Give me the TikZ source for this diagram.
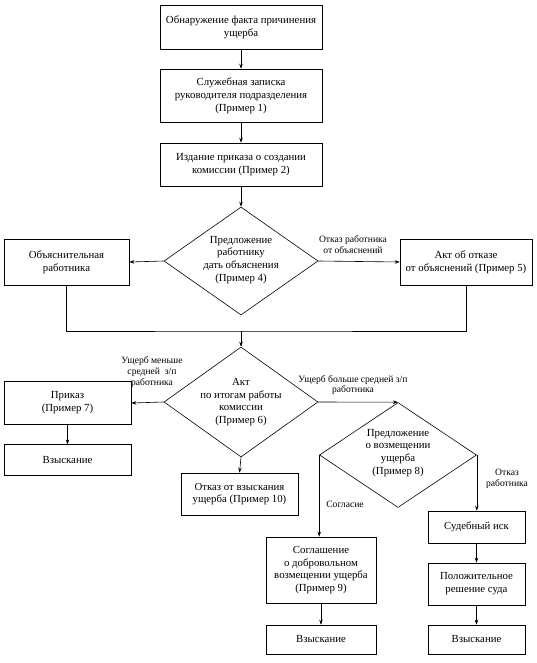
\documentclass[tikz,border=0pt]{standalone}
\usepackage{fontspec}
\setmainfont{Liberation Serif}
\usetikzlibrary{shapes.geometric,arrows.meta}
\begin{document}
\begin{tikzpicture}[x=1pt,y=-1pt,
  box/.style={draw,rectangle,align=center,inner sep=1pt,font=\fontsize{10.8}{12.8}\selectfont},
  dia/.style={draw,diamond,inner sep=0pt},
  dtxt/.style={align=center,inner sep=0pt,font=\fontsize{10.8}{12.8}\selectfont},
  lbl/.style={align=center,inner sep=0pt,font=\fontsize{9.6}{10.8}\selectfont},
  arr/.style={-{Stealth[length=5pt,width=3.5pt]}},
  every path/.style={line width=0.6pt}]
\useasboundingbox (0,0) rectangle (537,663);
\node[box,minimum width=162,minimum height=44] (b1) at (241,27) {Обнаружение факта причинения\\ущерба};
\node[box,minimum width=162,minimum height=53] (b2) at (241,95.5) {Служебная записка\\руководителя подразделения\\(Пример 1)};
\node[box,minimum width=162,minimum height=43] (b3) at (241,164.5) {Издание приказа о создании\\комиссии (Пример 2)};
\node[dia,minimum width=154,minimum height=108] (d1) at (241,261) {};
\node[dtxt] (d1t) at (241,260) {Предложение\\работнику\\дать объяснения\\(Пример 4)};
\node[box,minimum width=125,minimum height=46] (l1) at (66.5,262) {Объяснительная\\работника};
\node[box,minimum width=132,minimum height=46] (r1) at (466,262) {Акт об отказе\\от объяснений (Пример 5)};
\coordinate (m) at (241,331);
\node[dia,minimum width=154,minimum height=110] (d2) at (241,402) {};
\node[dtxt] (d2t) at (241,402) {Акт\\по итогам работы\\комиссии\\(Пример 6)};
\node[box,minimum width=127,minimum height=43.5] (p7) at (67.5,403) {Приказ\\(Пример 7)};
\node[box,minimum width=127,minimum height=30.5] (v1) at (67.5,460) {Взыскание};
\node[dia,minimum width=157,minimum height=105] (d3) at (398,455) {};
\node[dtxt] (d3t) at (398,453) {Предложение\\о возмещении\\ущерба\\(Пример 8)};
\node[box,minimum width=117,minimum height=42] (o10) at (239.5,494) {Отказ от взыскания\\ущерба (Пример 10)};
\node[box,minimum width=110,minimum height=66] (s9) at (321,570) {Соглашение\\о добровольном\\возмещении ущерба\\(Пример 9)};
\node[box,minimum width=97,minimum height=32] (si) at (476.5,527) {Судебный иск};
\node[box,minimum width=97,minimum height=42] (pr) at (476.5,584) {Положительное\\решение суда};
\node[box,minimum width=110,minimum height=29] (v2) at (321,639.5) {Взыскание};
\node[box,minimum width=97,minimum height=29] (v3) at (476.5,639.5) {Взыскание};
\draw[arr] (b1) -- (b2);
\draw[arr] (b2) -- (b3);
\draw[arr] (b3) -- (d1.north);
\draw[arr] (d1.west) -- (l1.east);
\draw[arr] (d1.east) -- (r1.west);
\node[lbl] (t1) at (353,245) {Отказ работника\\от объяснений};
\draw (l1.south) |- (m) -| (r1.south);
\draw[arr] (m) -- (d2.north);
\draw[arr] (d2.west) -- (p7.east);
\node[lbl] (t2) at (152,372) {Ущерб меньше\\средней~ з/п\\работника};
\draw[arr] (d2.east) -- (d3.north);
\node[lbl] (t3) at (353,385) {Ущерб больше средней з/п\\работника};
\draw[arr] (d2.south) -- (o10.north);
\draw[arr] (p7) -- (v1);
\draw[arr] (d3.west) -- (d3.west |- s9.north);
\node[lbl,anchor=west] (t4) at (326,504) {Согласие};
\draw[arr] (d3.east) -- (d3.east |- si.north);
\node[lbl] (t5) at (507,479) {Отказ\\работника};
\draw[arr] (si) -- (pr);
\draw[arr] (pr) -- (v3);
\draw[arr] (s9) -- (v2);
\end{tikzpicture}
\end{document}
